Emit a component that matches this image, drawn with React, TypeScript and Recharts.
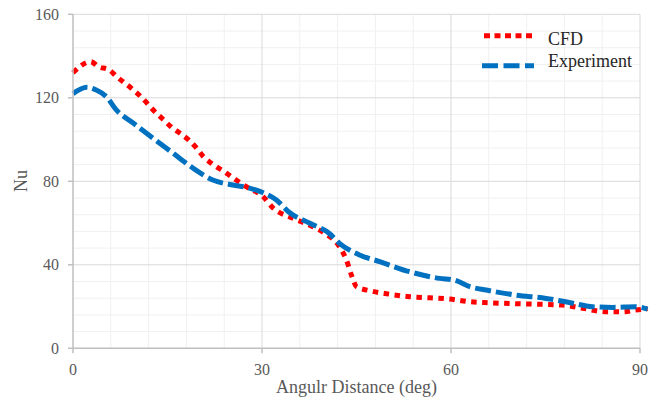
import React from "react";
import {
  LineChart,
  Line,
  XAxis,
  YAxis,
  CartesianGrid,
  Customized,
} from "recharts";

// Nusselt number along the angular distance: CFD prediction vs measurement
const cfdAngle = [
  0, 2.8, 4.1, 5.6, 7, 9.6, 10.9, 13, 14.3, 15.6, 17, 18.3, 19.5, 20.7, 21.8,
  24.4, 25.9, 27.5, 30.2, 31.8, 34.9, 38.1, 40, 42.3, 43.4, 44.2, 45, 47.1,
  50.3, 53.4, 56.6, 59.8, 63, 66.1, 72.4, 77.7, 80.9, 84.6, 87.2, 89.3, 91.2,
];
const cfdNu = [
  132, 137.3, 134.8, 133.6, 130, 123.7, 120.2, 113.3, 109.7, 106, 103, 100,
  96.3, 91.8, 89, 83.8, 80.6, 77.4, 72.6, 67.1, 62.3, 58.2, 55, 48.7, 42.3,
  35.1, 29.5, 27.6, 25.9, 24.7, 24.2, 23.6, 22.3, 21.8, 21.2, 20.7, 19.2,
  17.5, 17.5, 18.3, 19,
];

const expAngle = [
  0, 2.2, 3.7, 5.3, 6.9, 9.6, 12.7, 15.9, 19.1, 22.2, 25.4, 27.5, 30.2, 32.3,
  34.2, 37.6, 40.7, 42.3, 45.5, 48.7, 53.4, 58.2, 60.5, 63, 65.6, 70.3, 75.1,
  78.2, 82.5, 85.7, 89.3, 91.2,
];
const expNu = [
  122, 125, 123.7, 120.5, 114.1, 107.8, 100.6, 93.4, 86.2, 80.6, 78.2, 77.1,
  74.5, 71, 65.4, 59.9, 55, 50.3, 44.7, 41.5, 36.7, 33.5, 32.7, 29.5, 27.9,
  25.5, 23.9, 22.3, 19.9, 19.6, 19.9, 18.8,
];

const xTicks = [0, 30, 60, 90];
const yTicks = [0, 40, 80, 120, 160];
const xMinorGrid = [6, 12, 18, 24, 36, 42, 48, 54, 66, 72, 78, 84];
const yMinorGrid = [8, 16, 24, 32, 48, 56, 64, 72, 88, 96, 104, 112, 128, 136, 144, 152];
const xMajorGrid = [30, 60, 90];
const yMajorGrid = [40, 80, 120, 160];

const seriesNames = ["CFD", "Experiment"];
const xTitle = "Angulr Distance (deg)";
const yTitle = "Nu";

const cfdData = cfdAngle.map((a, i) => ({ angle: a, nu: cfdNu[i] }));
const expData = expAngle.map((a, i) => ({ angle: a, nu: expNu[i] }));

const FONT = "'Liberation Serif', 'Times New Roman', serif";
const RED = "#ff0000";
const BLUE = "#0070c0";
const MINOR = "#f0f0f0";
const MAJOR = "#d9d9d9";
const AXIS = "#bfbfbf";
const X_MAX = 90;
const Y_MAX = 160;

// Map axis values to pixel positions, preferring the axis' own scale.
const makeXGen = (values: number[]) => (props: any) => {
  const scale = props?.xAxis?.scale;
  if (scale && typeof scale === "function") return values.map((v) => scale(v));
  if (scale && typeof scale.map === "function") return values.map((v) => scale.map(v));
  const { left, width } = props.offset;
  return values.map((v) => left + (v / X_MAX) * width);
};
const makeYGen = (values: number[]) => (props: any) => {
  const scale = props?.yAxis?.scale;
  if (scale && typeof scale === "function") return values.map((v) => scale(v));
  if (scale && typeof scale.map === "function") return values.map((v) => scale.map(v));
  const { top, height } = props.offset;
  return values.map((v) => top + (1 - v / Y_MAX) * height);
};

const Decorations = () => (
  <g fontFamily={FONT}>
    <line x1={484} x2={533} y1={35.7} y2={35.7} stroke={RED} strokeWidth={5} strokeDasharray="6 4.5" />
    <text x={548} y={44.5} fontSize={18} fill="#262626">{seriesNames[0]}</text>
    <line x1={482} x2={534} y1={65.7} y2={65.7} stroke={BLUE} strokeWidth={5} strokeDasharray="16 5.5" />
    <text x={548} y={66.5} fontSize={18} fill="#262626">{seriesNames[1]}</text>
    <text x={356.5} y={393} fontSize={18} fill="#595959" textAnchor="middle">{xTitle}</text>
    <text transform="translate(27,181) rotate(-90)" fontSize={18} fill="#595959" textAnchor="middle">{yTitle}</text>
  </g>
);

// The curves run slightly past the last gridline, so they are not clipped to the plot box.
const css = `
  .recharts-line, .recharts-line * { clip-path: none !important; }
  .recharts-wrapper text { font-family: ${FONT}; }
`;

export default function App() {
  return (
    <div style={{ position: "absolute", left: 0, top: 0, background: "#fff", fontFamily: FONT }}>
      <style>{css}</style>
      <LineChart
        width={660}
        height={399}
        margin={{ top: 14.3, right: 20, bottom: 0, left: 0 }}
      >
        <CartesianGrid
          stroke={MINOR}
          strokeWidth={1}
          horizontalCoordinatesGenerator={makeYGen(yMinorGrid)}
          verticalCoordinatesGenerator={makeXGen(xMinorGrid)}
        />
        <CartesianGrid
          stroke={MAJOR}
          strokeWidth={1}
          horizontalCoordinatesGenerator={makeYGen(yMajorGrid)}
          verticalCoordinatesGenerator={makeXGen(xMajorGrid)}
        />
        <XAxis
          dataKey="angle"
          type="number"
          domain={[0, X_MAX]}
          allowDataOverflow
          ticks={xTicks}
          axisLine={{ stroke: AXIS, strokeWidth: 1.5 }}
          tickLine={{ stroke: AXIS, strokeWidth: 1.5 }}
          tickSize={5}
          tickMargin={10}
          height={50.7}
          tick={{ fill: "#595959", fontSize: 16 }}
        />
        <YAxis
          type="number"
          domain={[0, Y_MAX]}
          ticks={yTicks}
          width={73}
          axisLine={{ stroke: AXIS, strokeWidth: 1.5 }}
          tickLine={{ stroke: AXIS, strokeWidth: 1.5 }}
          tickSize={5}
          tickMargin={9}
          tick={{ fill: "#595959", fontSize: 16 }}
        />
        <Line
          data={cfdData}
          dataKey="nu"
          name={seriesNames[0]}
          type="monotone"
          stroke={RED}
          strokeWidth={5}
          strokeDasharray="5.5 5.5"
          dot={false}
          activeDot={false}
          isAnimationActive={false}
        />
        <Line
          data={expData}
          dataKey="nu"
          name={seriesNames[1]}
          type="monotone"
          stroke={BLUE}
          strokeWidth={5}
          strokeDasharray="16 5"
          dot={false}
          activeDot={false}
          isAnimationActive={false}
        />
        <Customized component={Decorations} />
      </LineChart>
    </div>
  );
}
